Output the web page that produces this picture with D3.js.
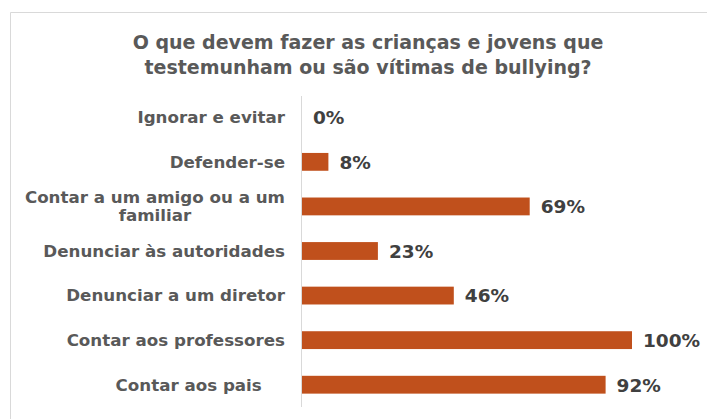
<!DOCTYPE html>
<html><head><meta charset="utf-8">
<script src="https://cdn.jsdelivr.net/npm/d3@7"></script>
<style>body{margin:0;background:#fff}svg{display:block}text{white-space:pre}</style>
</head><body>
<svg id="c" width="707" height="419"></svg>
<script>
const titleLines = ["O que devem fazer as crianças e jovens que", "testemunham ou são vítimas de bullying?"];
const categories = ["Ignorar e evitar", "Defender-se", "Contar a um amigo ou a um\nfamiliar", "Denunciar às autoridades", "Denunciar a um diretor", "Contar aos professores", "Contar aos pais    "];
const values = [0, 8, 69, 23, 46, 100, 92];
const valueLabels = ["0%", "8%", "69%", "23%", "46%", "100%", "92%"];

const svg = d3.select("#c");
const font = "'DejaVu Sans', Verdana, sans-serif";
// border
svg.append("path").attr("d", "M10.5,419 V12.5 H707").attr("fill", "none").attr("stroke", "#d9d9d9").attr("stroke-width", 1);

const title = svg.append("text").attr("text-anchor", "middle").attr("font-family", font)
  .attr("font-weight", "bold").attr("font-size", 19).attr("fill", "#595959");
titleLines.forEach((t, i) => title.append("tspan").attr("x", 368).attr("y", 49 + i * 25).text(t));

const x0 = 302;
const x = d3.scaleLinear().domain([0, 100]).range([x0, 632]);
const y = d3.scaleBand().domain(categories).range([95, 407]).paddingInner(0.6).paddingOuter(0.3);

svg.append("g").selectAll("rect").data(categories).join("rect")
  .attr("x", x(0)).attr("y", d => y(d)).attr("height", y.bandwidth())
  .attr("width", (d, i) => x(values[i]) - x(0)).attr("fill", "#C0501C");

svg.append("line").attr("x1", x0 - 0.5).attr("x2", x0 - 0.5).attr("y1", 96).attr("y2", 407)
  .attr("stroke", "#d9d9d9").attr("stroke-width", 1);

// category labels
const lab = svg.append("g").attr("font-family", font).attr("font-weight", "bold").attr("font-size", 16.7).attr("fill", "#595959");
categories.forEach(c => {
  const lines = c.split("\n");
  const cy = y(c) + y.bandwidth() / 2;
  if (lines.length === 1) {
    lab.append("text").attr("x", 285).attr("y", cy).attr("dy", "0.35em").attr("text-anchor", "end").text(c);
  } else {
    const t = lab.append("text").attr("text-anchor", "middle");
    const spans = lines.map((l, i) => t.append("tspan").attr("y", cy + (i - (lines.length - 1) / 2) * 18).attr("dy", "0.35em").text(l));
    const w = d3.max(spans, s => s.node().getComputedTextLength());
    spans.forEach(s => s.attr("x", 285 - w / 2));
  }
});

svg.append("g").attr("font-family", font).attr("font-weight", "bold").attr("font-size", 18.5).attr("fill", "#404040")
  .selectAll("text").data(categories).join("text")
  .attr("x", (d, i) => x(values[i]) + 11).attr("y", d => y(d) + y.bandwidth() / 2).attr("dy", "0.37em")
  .text((d, i) => valueLabels[i]);
</script>
</body></html>
